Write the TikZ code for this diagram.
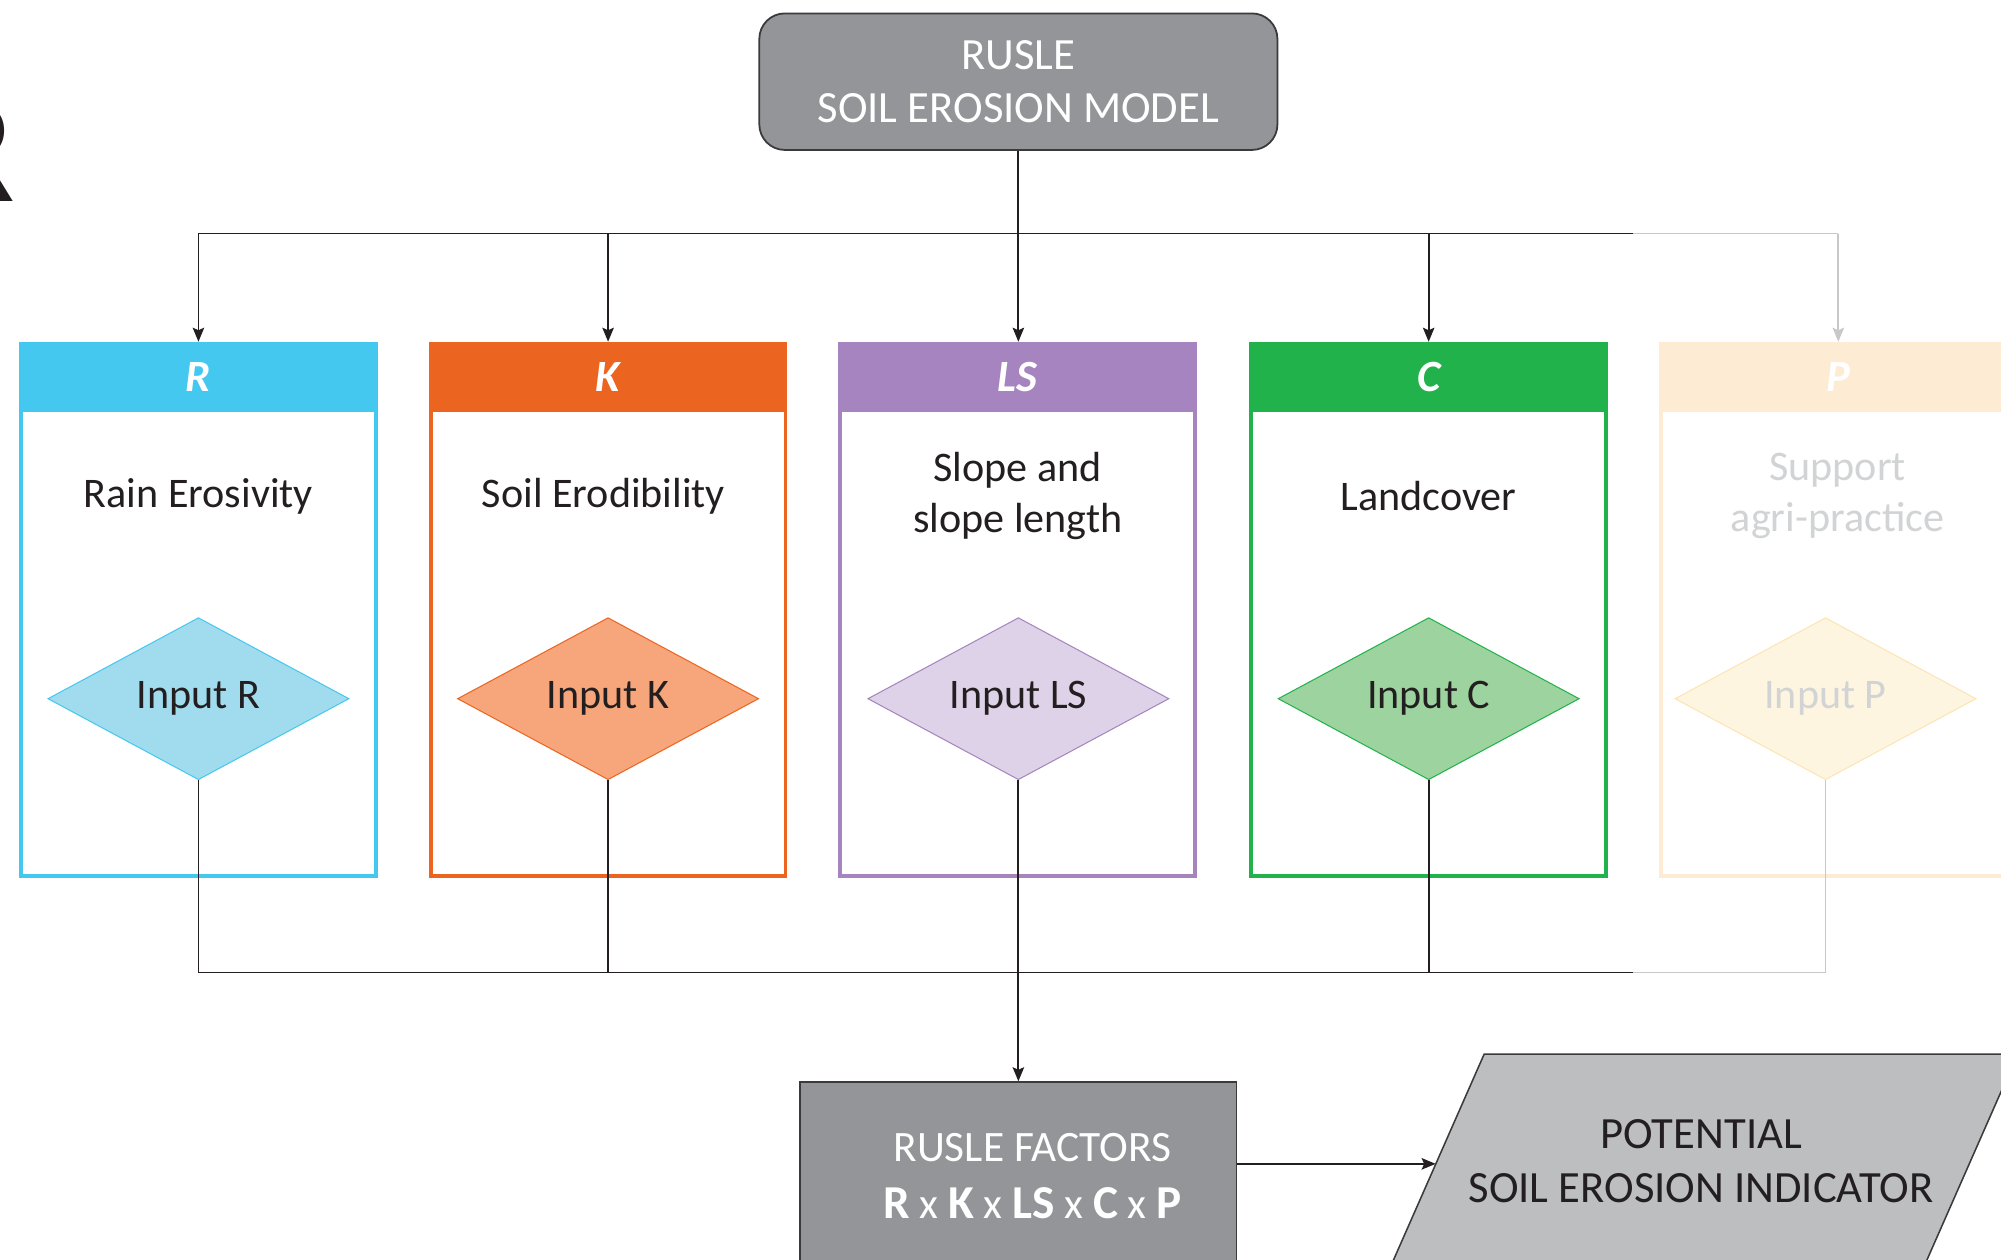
\documentclass[tikz,border=0pt]{standalone}
\usepackage{fontspec}
\setmainfont{Carlito}
\usetikzlibrary{shapes.geometric,arrows.meta}
\definecolor{txt}{HTML}{231F20}
\definecolor{boxgray}{HTML}{939598}
\definecolor{paragray}{HTML}{BCBEC0}
\definecolor{edge}{HTML}{3A3A3C}
\definecolor{lgray}{HTML}{C7C8CA}
\definecolor{cR}{HTML}{45C8EF}
\definecolor{fR}{HTML}{A1DCEE}
\definecolor{cK}{HTML}{EC6520}
\definecolor{fK}{HTML}{F6A67A}
\definecolor{cLS}{HTML}{A584BF}
\definecolor{fLS}{HTML}{DED2E8}
\definecolor{cC}{HTML}{22B24C}
\definecolor{fC}{HTML}{9DD39F}
\definecolor{cP}{HTML}{FDECD3}
\definecolor{fP}{HTML}{FEF5E0}
\definecolor{dP}{HTML}{FDE4B5}
\definecolor{tP}{HTML}{D1D3D4}
\newcommand\fsBody{\fontsize{33}{40}\selectfont}
\newcommand\fsHdr{\fontsize{35}{40}\selectfont}
\newcommand\fsTitle{\fontsize{35}{42}\selectfont}
\newcommand\bigf[1]{{\fontsize{37}{45}\selectfont\bfseries #1}}
\begin{document}
\begin{tikzpicture}[x=1pt,y=-1pt,
  colbox/.style={draw=#1, line width=3pt, fill=white, minimum width=278pt, minimum height=417pt, inner sep=0pt},
  hdrbox/.style={fill=#1, minimum width=281pt, minimum height=55pt, inner sep=0pt, text=white, font=\fsHdr\bfseries\itshape},
  diabox/.style 2 args={diamond, aspect=1.86, draw=#1, fill=#2, minimum width=236pt, minimum height=127pt, inner sep=0pt, line width=0.8pt, font=\fsBody, text=txt},
  bodytxt/.style={font=\fsBody, align=center, text=txt, inner sep=0pt},
  conn/.style={draw=txt, line width=1.4pt},
  gconn/.style={draw=lgray, line width=1.4pt},
  arr/.style={-{Stealth[length=11pt,width=9pt,inset=2pt]}},
]
\useasboundingbox (0,0) rectangle (1568,987);
\clip (0,0) rectangle (1568,987);

% cut-off letter at the left edge
\node[anchor=base east, inner sep=0pt, text=txt, font=\fontsize{120}{120}\selectfont\bfseries] (bigR) at (12,158) {R};

% top box
\node[rounded corners=20pt, draw=edge, line width=1.4pt, fill=boxgray, minimum width=406pt, minimum height=107pt, text=white, align=center, font=\fsTitle, inner sep=0pt] (top) at (798,64) {RUSLE\\SOIL EROSION MODEL};

% columns
\node[colbox=cR]  (colR)  at (155.5,478) {};
\node[colbox=cK]  (colK)  at (476.5,478) {};
\node[colbox=cLS] (colLS) at (797.5,478) {};
\node[colbox=cC]  (colC)  at (1119.5,478) {};
\node[colbox=cP]  (colP)  at (1440.5,478) {};

\node[hdrbox=cR]  (hR)  at (155.5,295.5) {R};
\node[hdrbox=cK]  (hK)  at (476.5,295.5) {K};
\node[hdrbox=cLS] (hLS) at (797.5,295.5) {LS};
\node[hdrbox=cC]  (hC)  at (1119.5,295.5) {C};
\node[hdrbox=cP]  (hP)  at (1440.5,295.5) {P};

\node[bodytxt] (tR)  at (155.5,389) {Rain Erosivity};
\node[bodytxt] (tK)  at (473,389) {Soil Erodibility};
\node[bodytxt] (tLS) at (797.5,389) {Slope and\\slope length};
\node[bodytxt] (tC)  at (1119.5,389) {Landcover};
\node[bodytxt, text=tP] (tP) at (1440,389) {Support\\agri-practice};

\node[diabox={cR}{fR}]   (dR)  at (155.5,547.5) {Input R};
\node[diabox={cK}{fK}]   (dK)  at (476.5,547.5) {Input K};
\node[diabox={cLS}{fLS}] (dLS) at (798,547.5) {Input LS};
\node[diabox={cC}{fC}]   (dC)  at (1119.5,547.5) {Input C};
\node[diabox={dP}{fP}, text=tP] (dP) at (1430.5,547.5) {Input P};

% bottom boxes
\node[draw=edge, line width=1.4pt, fill=boxgray, minimum width=342pt, minimum height=147pt, inner sep=0pt] (factors) at (798,921.5) {};
\node[text=white, align=center, font=\fontsize{34}{45}\selectfont, inner sep=0pt] (factorsTxt) at (809,921.5) {RUSLE FACTORS\\\bigf{R} x \bigf{K} x \bigf{LS} x \bigf{C} x \bigf{P}};

\coordinate (pTL) at (1163,826);
\coordinate (pTR) at (1581,826);
\coordinate (pBR) at (1507,994);
\coordinate (pBL) at (1089,994);
\draw[draw=edge, line width=1.2pt, fill=paragray] (pTL) -- (pTR) -- (pBR) -- (pBL) -- cycle;
\node[text=txt, align=center, font=\fsTitle, inner sep=0pt] (indicator) at (1333,910) {POTENTIAL\\SOIL EROSION INDICATOR};
\coordinate (indIn) at (1125,912);

% connectors: top bus
\coordinate (busTop) at (798,183);
\coordinate (busTopEnd) at (1280,183);
\draw[conn] (top.south) -- (busTop);
\draw[conn] (hR.north |- busTop) -- (busTopEnd);
\draw[gconn] (busTopEnd) -- (hP.north |- busTop);
\draw[gconn, arr] (hP.north |- busTop) -- (hP.north);
\draw[conn, arr] (hR.north |- busTop) -- (hR.north);
\draw[conn, arr] (hK.north |- busTop) -- (hK.north);
\draw[conn, arr] (busTop) -- (busTop |- hLS.north);
\draw[conn, arr] (hC.north |- busTop) -- (hC.north);

% connectors: bottom bus
\coordinate (busBot) at (798,762);
\coordinate (busBotEnd) at (1280,762);
\draw[gconn] (dP.south) -- (dP.south |- busBot) -- (busBotEnd);
\draw[conn] (dR.south) -- (dR.south |- busBot) -- (busBotEnd);
\draw[conn] (dK.south) -- (dK.south |- busBot);
\draw[conn] (dC.south) -- (dC.south |- busBot);
\draw[conn, arr] (dLS.south) -- (factors.north);
\draw[conn, arr] (factors.east |- indIn) -- (indIn);
\end{tikzpicture}
\end{document}
